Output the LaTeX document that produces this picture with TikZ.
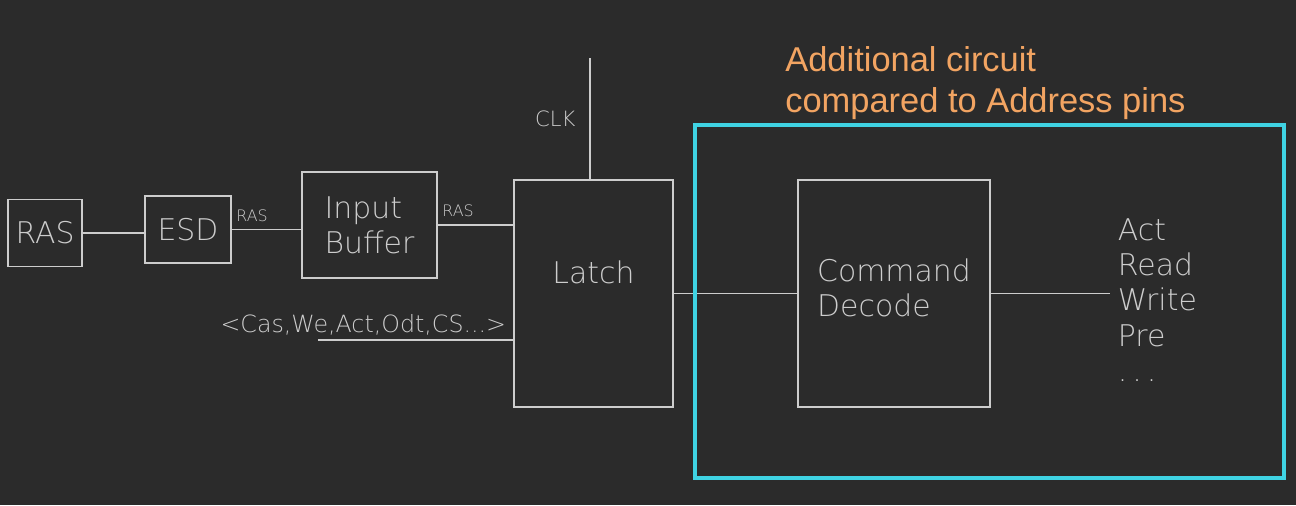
\documentclass[tikz,border=0pt]{standalone}
\usepackage{fontspec}
\setmainfont{DejaVu Sans}
\newfontfamily\cadfont{DejaVu Sans ExtraLight}
\newfontfamily\notefont{Liberation Sans}
\usetikzlibrary{positioning}
\definecolor{bgdark}{HTML}{2B2B2B}
\definecolor{wire}{HTML}{CDCDCD}
\definecolor{hilite}{HTML}{3FD3E3}
\definecolor{notecol}{HTML}{F2A462}
\begin{document}
\begin{tikzpicture}[x=1cm,y=1cm,
   blk/.style={draw=wire, line width=1.1pt, text=wire, font=\cadfont\fontsize{17}{20}\selectfont, align=left, inner sep=0pt},
   wr/.style={draw=wire, line width=1.1pt},
   lbl/.style={text=wire, font=\cadfont\fontsize{13.5}{15}\selectfont, inner sep=2pt},
   tiny/.style={lbl, font=\cadfont\fontsize{9}{10}\selectfont, inner ysep=4pt}]
  \fill[bgdark] (0,0) rectangle (25.92,-10.1);
  \useasboundingbox (0,0) rectangle (25.92,-10.1);
 \node[blk, minimum width=1.48cm, minimum height=1.34cm] (ras) at (0.9,-4.66) {RAS};
 \node[blk, minimum width=1.72cm, minimum height=1.34cm] (esd) at (3.76,-4.59) {ESD};
 \node[blk, minimum width=2.7cm, minimum height=2.12cm] (buf) at (7.39,-4.5) {Input\\Buffer};
 \node[blk, minimum width=3.18cm, minimum height=4.54cm, text depth=0.85cm] (latch) at (11.87,-5.87) {Latch};
 \node[blk, minimum width=3.84cm, minimum height=4.54cm, text depth=0.25cm] (cmd) at (17.88,-5.87) {Command\\Decode};
 \node[blk, draw=none, anchor=west] (cmds) at (22.34,-6.0) {Act\\Read\\Write\\Pre\\.\,.\,.};
  \coordinate (clk) at (11.8,-1.16);
  \coordinate (bus) at (6.36,-6.8);
   \draw[wr] (ras.east) -- (ras.east -| esd.west);
   \draw[wr] (esd.east) -- (esd.east -| buf.west) node[tiny, pos=0, above right] {RAS};
   \draw[wr] (buf.east) -- (buf.east -| latch.west) node[tiny, pos=0, above right] {RAS};
   \draw[wr] (clk) -- (clk |- latch.north) node[lbl, midway, left=0.2cm, font=\cadfont\fontsize{12}{14}\selectfont] {CLK};
   \draw[wr] (bus) -- (bus -| latch.west) node[lbl, pos=1, above left, xshift=-0.05cm] {<Cas,We,Act,Odt,CS...>};
   \draw[wr] (latch.east) -- (cmd.west);
   \draw[wr] (cmd.east) -- ([xshift=-0.14cm]cmd.east -| cmds.west);
  \draw[hilite, line width=2.4pt] (13.9,-2.5) rectangle (25.68,-9.56);
 \node[anchor=base west, align=left, text=notecol, inner sep=0pt, font=\notefont\fontsize{19.6}{23}\selectfont] (note) at (15.7,-2.24) {Additional circuit\\compared to Address pins};
\end{tikzpicture}
\end{document}
